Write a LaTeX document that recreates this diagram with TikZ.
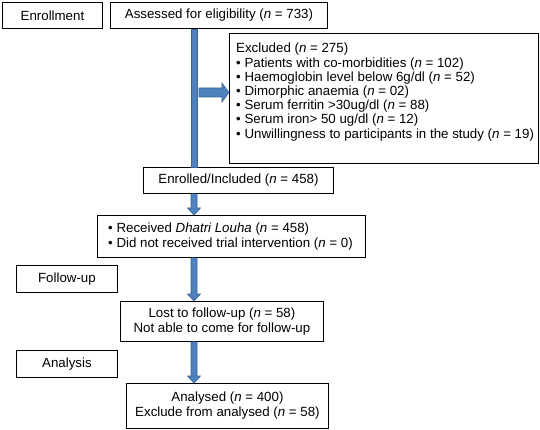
\documentclass[tikz,border=0pt]{standalone}
\usepackage{fontspec}
\setmainfont{Liberation Sans}
\usetikzlibrary{calc}
\definecolor{arrfill}{HTML}{4F81BD}
\definecolor{arrline}{HTML}{3A6597}
\newcommand\blkdown[2]{%
  \filldraw[blkarrow] ($(#1)+(-3,0)$) -- ($(#2)+(-3,-7)$) -- ($(#2)+(-6.5,-7)$) -- (#2)
    -- ($(#2)+(6.5,-7)$) -- ($(#2)+(3,-7)$) -- ($(#1)+(3,0)$) -- cycle;}
\begin{document}
\begin{tikzpicture}[x=1pt,y=-1pt,
  box/.style={draw=black, line width=0.9pt, inner sep=0pt, anchor=north west, align=center,
    font=\fontsize{13.3}{15}\selectfont},
  txt/.style={inner sep=0pt, align=left, font=\fontsize{13.3}{14.2}\selectfont},
  blkarrow/.style={fill=arrfill, draw=arrline, line width=0.6pt}]
\useasboundingbox (0,0) rectangle (540,430);
\node[box, minimum width=100, minimum height=26] (enrol) at (2,2) {Enrollment};
\node[box, minimum width=217, minimum height=26] (assess) at (110,2) {Assessed for eligibility (\textit{n} = 733)};
\node[box, minimum width=309, minimum height=130] (excl) at (229,33) {};
\node[txt, anchor=north west] (excltxt) at (236,43) {Excluded (\textit{n} = 275)\\
• Patients with co-morbidities (\textit{n} = 102)\\
• Haemoglobin level below 6g/dl (\textit{n} = 52)\\
• Dimorphic anaemia (\textit{n} = 02)\\
• Serum ferritin >30ug/dl (\textit{n} = 88)\\
• Serum iron> 50 ug/dl (\textit{n} = 12)\\
• Unwillingness to participants in the study (\textit{n} = 19)};
\node[box, minimum width=190, minimum height=26] (enr) at (143,167) {Enrolled/Included (\textit{n} = 458)};
\node[box, minimum width=268, minimum height=42] (recv) at (97,215) {};
\node[txt, anchor=west, font=\fontsize{13.3}{15}\selectfont] (recvtxt) at (108,0 |- recv.center) {• Received \textit{Dhatri Louha} (\textit{n} = 458)\\
• Did not received trial intervention (\textit{n} = 0)};
\node[box, minimum width=101, minimum height=27] (follow) at (16,265) {Follow-up};
\node[box, minimum width=203, minimum height=40] (lost) at (120,301) {Lost to follow-up (\textit{n} = 58)\\Not able to come for follow-up};
\node[box, minimum width=101, minimum height=27] (anal) at (16,350) {Analysis};
\node[box, minimum width=202, minimum height=45] (analysed) at (126,383) {Analysed (\textit{n} = 400)\\Exclude from analysed (\textit{n} = 58)};
% trunk
\filldraw[blkarrow] (191,0 |- assess.south) rectangle (197,0 |- enr.north);
% right arrow
\coordinate (rs) at (199,92.5);
\coordinate (rt) at (excl.west |- rs);
\filldraw[blkarrow] ($(rs)+(0,-4.5)$) -- ($(rt)+(-7,-4.5)$) -- ($(rt)+(-7,-9.5)$) -- (rt)
  -- ($(rt)+(-7,9.5)$) -- ($(rt)+(-7,4.5)$) -- ($(rs)+(0,4.5)$) -- cycle;
% down arrows
\coordinate (d1a) at (194,0 |- enr.south);
\coordinate (d1b) at (194,0 |- recv.north);
\blkdown{d1a}{d1b}
\coordinate (d2a) at (194,0 |- recv.south);
\coordinate (d2b) at (194,0 |- lost.north);
\blkdown{d2a}{d2b}
\coordinate (d3a) at (194,0 |- lost.south);
\coordinate (d3b) at (194,0 |- analysed.north);
\blkdown{d3a}{d3b}
\end{tikzpicture}
\end{document}
